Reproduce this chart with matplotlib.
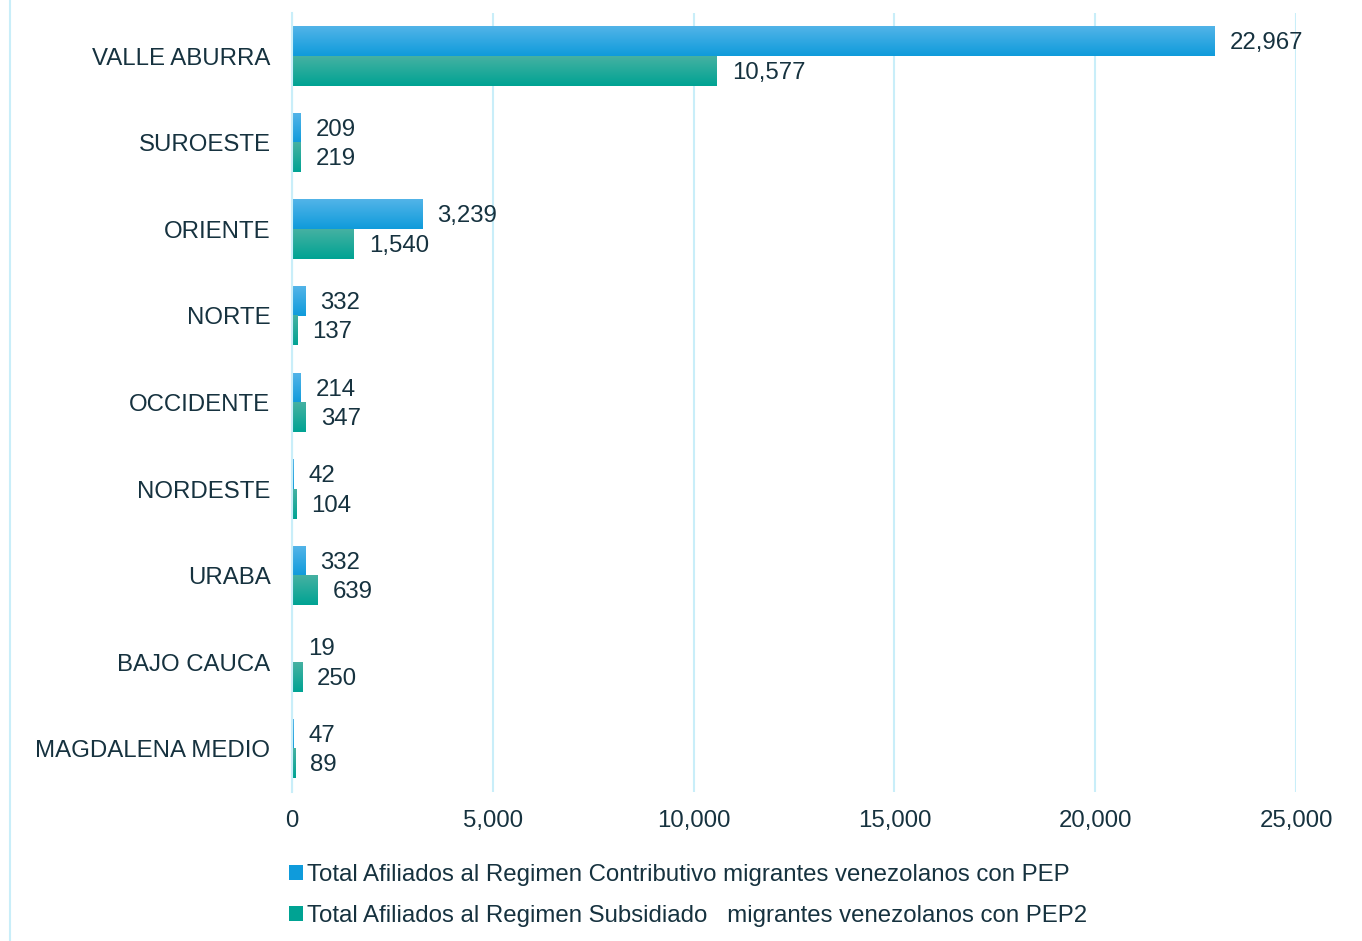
import numpy as np
import matplotlib.pyplot as plt
from matplotlib.colors import LinearSegmentedColormap
from matplotlib.patches import Patch
from matplotlib.lines import Line2D

plt.rcParams['font.family'] = ['Liberation Sans', 'DejaVu Sans']

regions = ['VALLE ABURRA', 'SUROESTE', 'ORIENTE', 'NORTE', 'OCCIDENTE',
           'NORDESTE', 'URABA', 'BAJO CAUCA', 'MAGDALENA MEDIO']
contributivo = [22967, 209, 3239, 332, 214, 42, 332, 19, 47]
subsidiado = [10577, 219, 1540, 137, 347, 104, 639, 250, 89]
legend_labels = ['Total Afiliados al Regimen Contributivo migrantes venezolanos con PEP',
                 'Total Afiliados al Regimen Subsidiado   migrantes venezolanos con PEP2']
xticks = [0, 5000, 10000, 15000, 20000, 25000]

TEXT = '#16323f'
GRID = '#c9eef9'
BLUE_TOP, BLUE_BOT = '#52b4e8', '#0f9bdb'
GREEN_TOP, GREEN_BOT = '#45b1a2', '#00a393'
FS = 17.3

fig = plt.figure(figsize=(13.62, 9.41), dpi=100)
ax = fig.add_axes([0.2144, 0.1583, 0.7372, 0.8279])

y = np.arange(len(regions))
bh = 0.34


def gradient_bars(ax, ys, vals, top, bot):
    cmap = LinearSegmentedColormap.from_list('g', [top, bot])
    grad = np.linspace(0, 1, 64).reshape(-1, 1)
    for yc, v in zip(ys, vals):
        ax.imshow(grad, cmap=cmap, aspect='auto', interpolation='bilinear',
                  extent=[0, v, yc + bh / 2, yc - bh / 2], zorder=3)


gradient_bars(ax, y - bh / 2, contributivo, BLUE_TOP, BLUE_BOT)
gradient_bars(ax, y + bh / 2, subsidiado, GREEN_TOP, GREEN_BOT)

# value labels, a bit right of each bar end
for yc, v in zip(y - bh / 2, contributivo):
    ax.text(v + 370, yc + 0.02, f'{v:,}', va='center', ha='left', fontsize=FS, color=TEXT)
for yc, v in zip(y + bh / 2, subsidiado):
    ax.text(v + 370, yc + 0.02, f'{v:,}', va='center', ha='left', fontsize=FS, color=TEXT)

ax.set_xlim(0, 25000)
ax.set_ylim(len(regions) - 0.5, -0.5)
ax.set_xticks(xticks)
ax.set_xticklabels([f'{t:,}' for t in xticks], fontsize=FS, color=TEXT)
ax.set_yticks(y)
ax.set_yticklabels(regions, fontsize=FS, color=TEXT)
ax.tick_params(axis='x', length=0, pad=13)
ax.tick_params(axis='y', length=0, pad=15.5)
ax.grid(axis='x', color=GRID, linewidth=1.5, zorder=0)
ax.set_axisbelow(True)
for s in ['top', 'right', 'bottom']:
    ax.spines[s].set_visible(False)
ax.spines['left'].set_color(GRID)
ax.spines['left'].set_linewidth(1.5)
ax.spines['left'].set_zorder(4)

handles = [Patch(facecolor=BLUE_BOT, edgecolor='none'),
           Patch(facecolor=GREEN_BOT, edgecolor='none')]
fig.legend(handles, legend_labels, loc='upper left', bbox_to_anchor=(0.2125, 0.082),
           frameon=False, fontsize=FS, labelcolor=TEXT, handlelength=0.55,
           handleheight=0.55, handletextpad=0.2, labelspacing=0.8,
           borderaxespad=0, borderpad=0)

fig.add_artist(Line2D([0.0075, 0.0075], [0, 1], color=GRID, linewidth=1.5,
                      transform=fig.transFigure))

fig.savefig('out.png', dpi=100)
